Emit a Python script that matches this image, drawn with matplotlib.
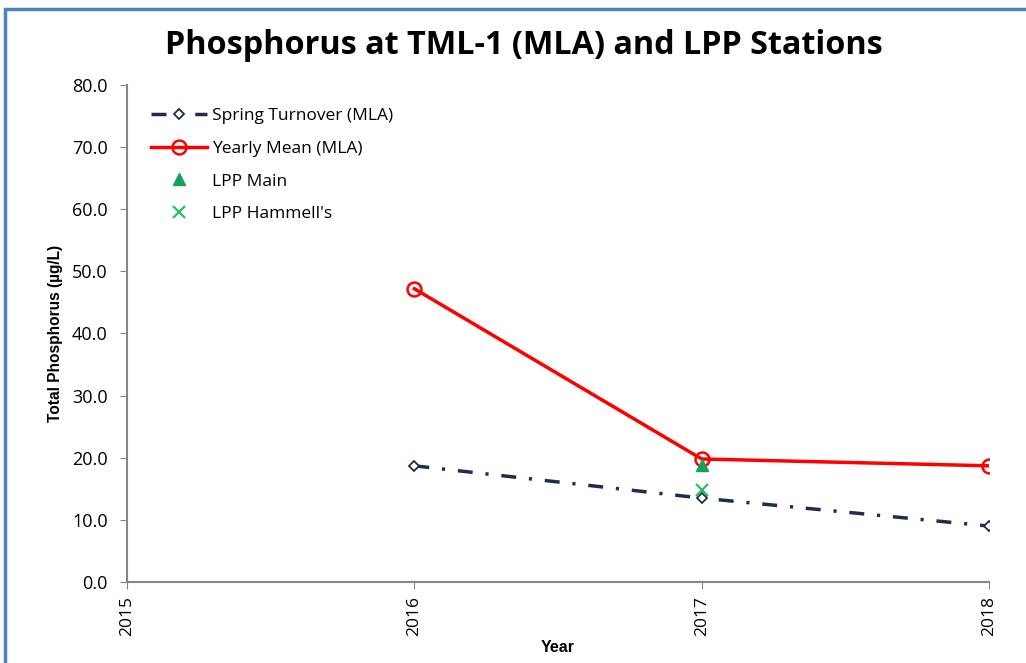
import numpy as np
import matplotlib.pyplot as plt
from matplotlib.patches import Rectangle

# Data
years = [2016, 2017, 2018]
spring_turnover = [18.7, 13.5, 9.0]
yearly_mean = [47.2, 19.8, 18.7]
lpp_main_year = [2017]
lpp_main = [18.8]
lpp_hammell_year = [2017]
lpp_hammell = [14.8]
x_ticks = [2015, 2016, 2017, 2018]
y_ticks = np.arange(0, 81, 10)

fig = plt.figure(figsize=(10.26, 6.63), dpi=100)
ax = fig.add_axes([0.1238, 0.1222, 0.8402, 0.7496])

# blue frame around chart area
fig.patches.append(Rectangle((5 / 1026, -0.02), 1.1, 1 - 9 / 663 + 0.02,
                             transform=fig.transFigure, fill=False,
                             edgecolor='#4F81BD', linewidth=2.5))

ax.plot(years, spring_turnover, color='#1F2D4A', linestyle=(0, (4.3, 3.7, 0.9, 3.7)),
        linewidth=2.5, marker='D', markersize=5, markerfacecolor='white',
        markeredgecolor='#1F2D4A', markeredgewidth=1.3, label='Spring Turnover (MLA)')
ax.plot(years, yearly_mean, color='#FF0000', linewidth=2.5, marker='o',
        markersize=10, markerfacecolor='none', markeredgewidth=1.8,
        label='Yearly Mean (MLA)')
ax.plot(lpp_main_year, lpp_main, linestyle='none', marker='^', markersize=9,
        color='#14A05A', label='LPP Main')
ax.plot(lpp_hammell_year, lpp_hammell, linestyle='none', marker='x', markersize=9,
        markeredgewidth=1.6, color='#2DBE6C', label="LPP Hammell's")

ax.set_xlim(2015, 2018)
ax.set_ylim(0, 80)
ax.set_xticks(x_ticks)
ax.set_xticklabels([str(x) for x in x_ticks], rotation=90, fontsize=12.5,
                   family='Open Sans')
ax.set_yticks(y_ticks)
ax.set_yticklabels([f'{v:.1f}' for v in y_ticks], fontsize=13,
                   family='Open Sans')
ax.tick_params(direction='out', length=5, color='#868686')
ax.tick_params(axis='y', pad=9)
ax.tick_params(axis='x', pad=5)

for side in ['top', 'right']:
    ax.spines[side].set_visible(False)
for side in ['left', 'bottom']:
    ax.spines[side].set_color('#868686')
    ax.spines[side].set_linewidth(1.5)

ax.set_xlabel('Year', fontsize=11.5, fontweight='bold', family='Liberation Sans', labelpad=3)
ax.set_ylabel('Total Phosphorus (µg/L)', fontsize=11.2, fontweight='bold',
              family='Liberation Sans', labelpad=6)
fig.text(0.511, 0.932, 'Phosphorus at TML-1 (MLA) and LPP Stations', ha='center',
         va='center', fontsize=23.3, fontweight='bold', family='Open Sans')

ax.legend(loc='upper left', bbox_to_anchor=(0.01, 0.985), frameon=False,
          prop={'family': 'Open Sans', 'size': 12.5}, handlelength=3.2,
          labelspacing=0.95, handletextpad=0.3, borderaxespad=0.5)

plt.savefig('out.png', dpi=100)
